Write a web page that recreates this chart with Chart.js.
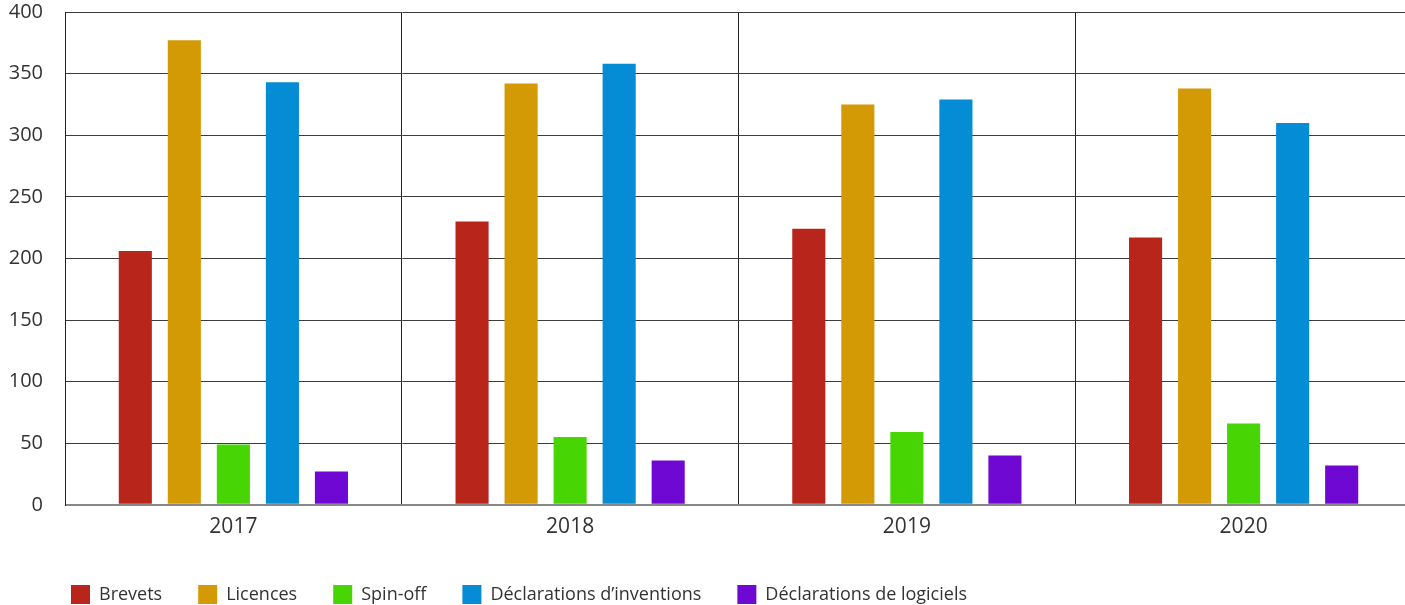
<!DOCTYPE html>
<html>
<head>
<meta charset="utf-8">
<script src="https://cdn.jsdelivr.net/npm/chart.js@4.4.1/dist/chart.umd.min.js"></script>
<style>
  html, body { margin: 0; padding: 0; background: #fff; overflow: hidden; }
  #wrap { position: absolute; left: 0; top: 0; width: 1412px; height: 605px; }
</style>
</head>
<body>
<div id="wrap"><canvas id="c" width="1412" height="605"></canvas></div>
<script>
const years = ['2017', '2018', '2019', '2020'];
const seriesNames = ['Brevets', 'Licences', 'Spin-off', 'Déclarations d\u2019inventions', 'Déclarations de logiciels'];
const brevets = [206, 230, 224, 217];
const licences = [377, 342, 325, 338];
const spinOff = [49, 55, 59, 66];
const declInventions = [343, 358, 329, 310];
const declLogiciels = [27, 36, 40, 32];
const yTicks = [0, 50, 100, 150, 200, 250, 300, 350, 400];

const colors = ['#B8251B', '#D39A06', '#48D504', '#048CD4', '#7008D4'];
const values = [brevets, licences, spinOff, declInventions, declLogiciels];

const legendShift = {
  id: 'legendShift',
  afterLayout(chart) {
    chart.legend.left += 35;
    chart.legend.top += 9;
  }
};

new Chart(document.getElementById('c'), {
  type: 'bar',
  data: {
    labels: years,
    datasets: seriesNames.map((n, i) => ({
      label: n,
      data: values[i],
      backgroundColor: colors[i],
      borderWidth: 0,
      categoryPercentage: 0.728,
      barPercentage: 0.675
    }))
  },
  options: {
    responsive: false,
    animation: false,
    devicePixelRatio: 1,
    layout: { padding: 0 },
    plugins: {
      legend: {
        position: 'bottom',
        align: 'start',
        labels: {
          boxWidth: 19,
          boxHeight: 19,
          padding: 36,
          color: '#333',
          font: { family: 'Open Sans', size: 18 }
        }
      },
      tooltip: { enabled: false }
    },
    scales: {
      x: {
        offset: true,
        grid: { offset: true, color: '#222', lineWidth: 1, drawTicks: true, tickLength: 10, tickColor: 'rgba(0,0,0,0)' },
        border: { display: false },
        ticks: { padding: 0, color: '#333', font: { family: 'Open Sans', size: 21 } }
      },
      y: {
        min: 0,
        max: 400,
        afterBuildTicks: axis => { axis.ticks = yTicks.map(v => ({ value: v })); },
        afterFit: axis => { axis.width = 65; },
        grid: {
          drawTicks: true,
          tickLength: 22,
          tickColor: 'rgba(0,0,0,0)',
          color: ctx => (ctx.tick && ctx.tick.value === 0) ? '#888' : '#3c3c3c',
          lineWidth: ctx => (ctx.tick && ctx.tick.value === 0) ? 2 : 1
        },
        border: { display: true, color: '#222' },
        ticks: { padding: 0, color: '#333', font: { family: 'Open Sans', size: 20 } }
      }
    }
  },
  plugins: [legendShift]
});
</script>
</body>
</html>
